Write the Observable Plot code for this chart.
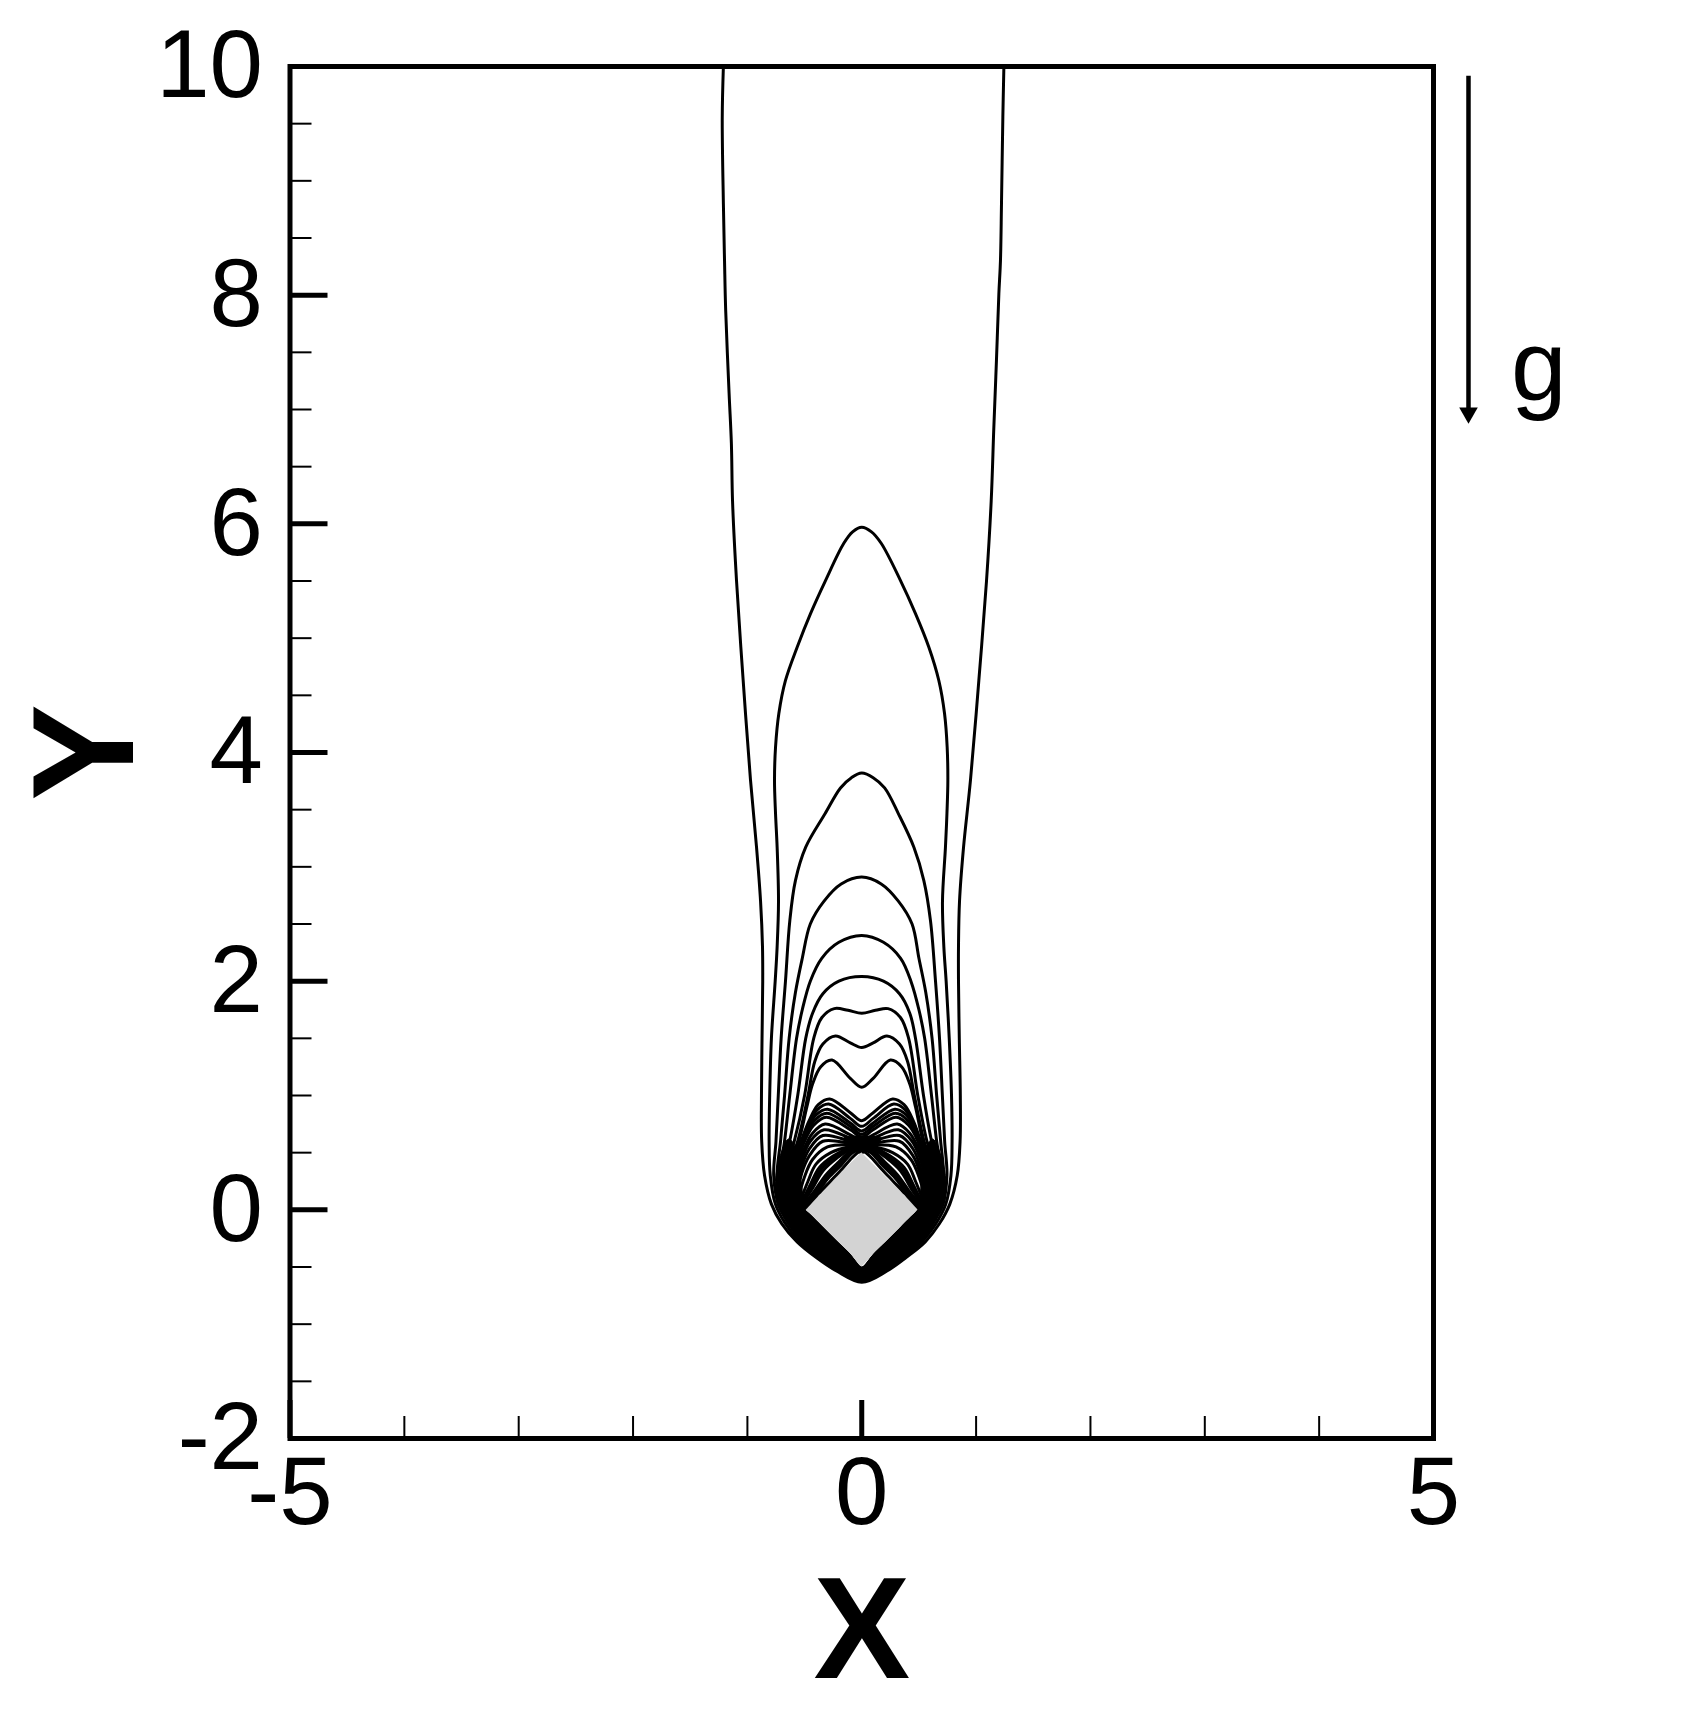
<!DOCTYPE html>
<html>
<head>
<meta charset="utf-8">
<script src="https://cdn.jsdelivr.net/npm/d3@7"></script>
<script src="https://cdn.jsdelivr.net/npm/@observablehq/plot@0.6"></script>
<style>
  html, body { margin: 0; padding: 0; background: #fff; overflow: hidden; }
</style>
</head>
<body>
<div id="chart"></div>
<script>
// ---- axis ticks ----
const xMajor = [-5, 0, 5];
const xMinor = [-4, -3, -2, -1, 1, 2, 3, 4];
const yMajor = [-2, 0, 2, 4, 6, 8, 10];
const yMinor = [-1.5, -1, -0.5, 0.5, 1, 1.5, 2.5, 3, 3.5, 4.5, 5, 5.5, 6.5, 7, 7.5, 8.5, 9, 9.5];

// ---- cylinder (diamond) ----
const cylX = [-0.5, 0, 0.5];
const cylLower = [0, -0.5, 0];
const cylUpper = [0, 0.5, 0];

// ---- regions where contour lines merge into solid black ----
const bundleLower = [[-0.64,0.62],[-0.72,0.45],[-0.755,0.25],[-0.74,0.05],[-0.655,-0.1],[-0.54,-0.26],[-0.385,-0.39],[-0.2,-0.51],[0,-0.612],[0.2,-0.51],[0.375,-0.39],[0.525,-0.26],[0.635,-0.1],[0.72,0.05],[0.735,0.25],[0.70,0.45],[0.62,0.62],[0.565,0.55],[0.53,0.35],[0.512,0.12],[0.5,0],[0,-0.5],[-0.5,0],[-0.515,0.12],[-0.545,0.35],[-0.58,0.55]];
const bundleTop = [[-0.16,0.625],[-0.06,0.645],[0.06,0.645],[0.17,0.625],[0.03,0.5],[-0.03,0.5]];

// ---- gravity annotation ----
const gravity = [{x: 5.306, top: 9.92, head: 6.97}];
const gLabel = [{x: 5.678, y: 7.08, label: "g"}];

// ---- contour lines (x, y) ----
const c1 = [[-1.21,10],[-1.22,9.55],[-1.21,8.8],[-1.2,8.3],[-1.19,7.87],[-1.16,7.14],[-1.14,6.7],[-1.13,6.2],[-1.095,5.5],[-1.037,4.63],[-0.973,3.76],[-0.92,3.17],[-0.885,2.7],[-0.868,2.3],[-0.866,2.0],[-0.872,1.5],[-0.877,1.0],[-0.875,0.6],[-0.85,0.3],[-0.79,0.05],[-0.70,-0.12],[-0.565,-0.28],[-0.4,-0.415],[-0.22,-0.535],[0,-0.633],[0.22,-0.535],[0.39,-0.415],[0.555,-0.28],[0.68,-0.12],[0.77,0.05],[0.835,0.3],[0.86,0.6],[0.862,1.0],[0.853,1.5],[0.846,2.0],[0.846,2.3],[0.855,2.7],[0.89,3.17],[0.951,3.76],[1.024,4.63],[1.091,5.5],[1.132,6.2],[1.155,6.84],[1.178,7.43],[1.199,8.01],[1.213,8.3],[1.222,8.8],[1.234,9.56],[1.243,10]];
const c2 = [[0,5.97],[-0.08,5.93],[-0.157,5.83],[-0.317,5.504],[-0.448,5.215],[-0.565,4.921],[-0.667,4.63],[-0.725,4.341],[-0.754,4.046],[-0.763,3.755],[-0.754,3.466],[-0.74,3.172],[-0.728,2.7],[-0.74,2.3],[-0.757,2.0],[-0.79,1.5],[-0.805,1.0],[-0.81,0.6],[-0.80,0.3],[-0.755,0.05],[-0.675,-0.11],[-0.55,-0.27],[-0.39,-0.40],[-0.21,-0.52],[0,-0.625],[0.21,-0.52],[0.38,-0.40],[0.535,-0.27],[0.655,-0.11],[0.735,0.05],[0.78,0.3],[0.79,0.6],[0.785,1.0],[0.765,1.5],[0.738,2.0],[0.718,2.3],[0.706,2.7],[0.732,3.172],[0.745,3.466],[0.753,3.755],[0.747,4.046],[0.724,4.341],[0.674,4.63],[0.587,4.921],[0.47,5.215],[0.339,5.504],[0.17,5.83],[0.085,5.93]];
const c3 = [[0,3.82],[-0.09,3.78],[-0.186,3.69],[-0.32,3.466],[-0.49,3.172],[-0.58,2.88],[-0.629,2.53],[-0.667,2.0],[-0.705,1.5],[-0.73,1.0],[-0.75,0.6],[-0.77,0.3],[-0.73,0.05],[-0.655,-0.1],[-0.535,-0.26],[-0.38,-0.39],[-0.2,-0.51],[0,-0.618],[0.2,-0.51],[0.37,-0.39],[0.52,-0.26],[0.635,-0.1],[0.71,0.05],[0.745,0.3],[0.725,0.6],[0.705,1.0],[0.68,1.5],[0.645,2.0],[0.601,2.53],[0.543,2.88],[0.456,3.172],[0.32,3.466],[0.2,3.69],[0.1,3.78]];
const c4 = [[0,2.91],[-0.18,2.85],[-0.33,2.70],[-0.45,2.50],[-0.52,2.2],[-0.58,1.9],[-0.635,1.5],[-0.675,1.0],[-0.71,0.6],[-0.74,0.3],[-0.70,0.05],[-0.63,-0.09],[-0.515,-0.25],[-0.37,-0.38],[-0.19,-0.50],[0,-0.612],[0.19,-0.50],[0.36,-0.38],[0.50,-0.25],[0.61,-0.09],[0.68,0.05],[0.715,0.3],[0.69,0.6],[0.655,1.0],[0.615,1.5],[0.56,1.9],[0.50,2.2],[0.44,2.50],[0.32,2.70],[0.17,2.85]];
const c5 = [[0,2.40],[-0.2,2.34],[-0.35,2.2],[-0.45,2.0],[-0.52,1.75],[-0.57,1.5],[-0.63,1.0],[-0.675,0.6],[-0.72,0.3],[-0.68,0.05],[-0.61,-0.085],[-0.50,-0.24],[-0.36,-0.37],[-0.18,-0.49],[0,-0.606],[0.18,-0.49],[0.35,-0.37],[0.485,-0.24],[0.59,-0.085],[0.66,0.05],[0.70,0.3],[0.655,0.6],[0.61,1.0],[0.55,1.5],[0.50,1.75],[0.43,2.0],[0.34,2.2],[0.19,2.34]];
const c6 = [[0,2.04],[-0.2,2.0],[-0.34,1.89],[-0.43,1.72],[-0.49,1.5],[-0.56,1.0],[-0.63,0.6],[-0.70,0.3],[-0.665,0.05],[-0.595,-0.08],[-0.49,-0.23],[-0.35,-0.36],[-0.17,-0.48],[0,-0.60],[0.17,-0.48],[0.34,-0.36],[0.475,-0.23],[0.575,-0.08],[0.645,0.05],[0.68,0.3],[0.61,0.6],[0.54,1.0],[0.47,1.5],[0.42,1.72],[0.33,1.89],[0.19,2.0]];
const c7 = [[0,1.72],[-0.12,1.745],[-0.24,1.76],[-0.35,1.68],[-0.42,1.5],[-0.50,1.0],[-0.59,0.6],[-0.68,0.3],[-0.65,0.05],[-0.58,-0.075],[-0.48,-0.22],[-0.34,-0.35],[-0.16,-0.47],[0,-0.594],[0.16,-0.47],[0.33,-0.35],[0.465,-0.22],[0.56,-0.075],[0.63,0.05],[0.66,0.3],[0.57,0.6],[0.49,1.0],[0.41,1.5],[0.34,1.68],[0.23,1.76],[0.12,1.745]];
const c8 = [[0,1.42],[-0.1,1.46],[-0.23,1.52],[-0.34,1.45],[-0.41,1.3],[-0.47,1.0],[-0.56,0.6],[-0.665,0.3],[-0.64,0.05],[-0.57,-0.07],[-0.47,-0.21],[-0.33,-0.345],[-0.155,-0.46],[0,-0.588],[0.155,-0.46],[0.32,-0.345],[0.455,-0.21],[0.55,-0.07],[0.62,0.05],[0.645,0.3],[0.545,0.6],[0.46,1.0],[0.40,1.3],[0.33,1.45],[0.22,1.52],[0.1,1.46]];
const c9 = [[0,1.072],[-0.1,1.15],[-0.26,1.31],[-0.36,1.25],[-0.43,1.1],[-0.48,0.9],[-0.55,0.6],[-0.65,0.3],[-0.63,0.05],[-0.56,-0.065],[-0.46,-0.2],[-0.32,-0.34],[-0.15,-0.455],[0,-0.582],[0.15,-0.455],[0.31,-0.34],[0.445,-0.2],[0.54,-0.065],[0.61,0.05],[0.63,0.3],[0.535,0.6],[0.47,0.9],[0.42,1.1],[0.35,1.25],[0.25,1.31],[0.1,1.15]];
const c10 = [[0,0.78],[-0.1,0.85],[-0.28,0.97],[-0.38,0.92],[-0.46,0.78],[-0.53,0.6],[-0.635,0.3],[-0.62,0.05],[-0.55,-0.06],[-0.45,-0.19],[-0.315,-0.33],[-0.145,-0.45],[0,-0.576],[0.145,-0.45],[0.305,-0.33],[0.435,-0.19],[0.53,-0.06],[0.60,0.05],[0.615,0.3],[0.515,0.6],[0.45,0.78],[0.37,0.92],[0.27,0.97],[0.1,0.85]];
const c10b = [[0,0.73],[-0.1,0.80],[-0.29,0.925],[-0.39,0.875],[-0.47,0.74],[-0.54,0.55],[-0.628,0.3],[-0.615,0.05],[-0.545,-0.058],[-0.445,-0.185],[-0.31,-0.325],[-0.142,-0.445],[0,-0.573],[0.142,-0.445],[0.30,-0.325],[0.43,-0.185],[0.525,-0.058],[0.595,0.05],[0.608,0.3],[0.525,0.55],[0.46,0.74],[0.38,0.875],[0.28,0.925],[0.1,0.80]];
const c11 = [[0,0.69],[-0.1,0.76],[-0.30,0.88],[-0.40,0.83],[-0.48,0.70],[-0.55,0.5],[-0.62,0.3],[-0.61,0.05],[-0.54,-0.055],[-0.44,-0.18],[-0.305,-0.32],[-0.14,-0.44],[0,-0.57],[0.14,-0.44],[0.295,-0.32],[0.425,-0.18],[0.52,-0.055],[0.59,0.05],[0.60,0.3],[0.535,0.5],[0.47,0.70],[0.39,0.83],[0.29,0.88],[0.1,0.76]];
const c11b = [[0,0.66],[-0.1,0.73],[-0.305,0.845],[-0.41,0.785],[-0.49,0.65],[-0.56,0.45],[-0.612,0.27],[-0.605,0.05],[-0.535,-0.052],[-0.435,-0.175],[-0.302,-0.315],[-0.137,-0.437],[0,-0.567],[0.137,-0.437],[0.292,-0.315],[0.42,-0.175],[0.515,-0.052],[0.585,0.05],[0.592,0.27],[0.54,0.45],[0.48,0.65],[0.40,0.785],[0.295,0.845],[0.1,0.73]];
const c12 = [[0,0.635],[-0.1,0.70],[-0.31,0.81],[-0.42,0.74],[-0.50,0.6],[-0.565,0.4],[-0.605,0.25],[-0.60,0.05],[-0.53,-0.05],[-0.43,-0.17],[-0.30,-0.31],[-0.135,-0.435],[0,-0.564],[0.135,-0.435],[0.29,-0.31],[0.415,-0.17],[0.51,-0.05],[0.58,0.05],[0.585,0.25],[0.545,0.4],[0.49,0.6],[0.41,0.74],[0.30,0.81],[0.1,0.70]];
const c13 = [[0,0.60],[-0.1,0.655],[-0.32,0.75],[-0.43,0.67],[-0.51,0.52],[-0.565,0.35],[-0.59,0.2],[-0.585,0.05],[-0.52,-0.045],[-0.42,-0.16],[-0.29,-0.30],[-0.13,-0.425],[0,-0.558],[0.13,-0.425],[0.285,-0.30],[0.405,-0.16],[0.50,-0.045],[0.565,0.05],[0.57,0.2],[0.545,0.35],[0.50,0.52],[0.42,0.67],[0.31,0.75],[0.1,0.655]];
const c14 = [[0,0.585],[-0.1,0.625],[-0.33,0.70],[-0.45,0.60],[-0.52,0.45],[-0.56,0.3],[-0.575,0.15],[-0.57,0.05],[-0.51,-0.04],[-0.41,-0.15],[-0.28,-0.29],[-0.125,-0.415],[0,-0.552],[0.125,-0.415],[0.275,-0.29],[0.395,-0.15],[0.49,-0.04],[0.55,0.05],[0.555,0.15],[0.545,0.3],[0.51,0.45],[0.44,0.60],[0.32,0.70],[0.1,0.625]];
const c15 = [[0,0.575],[-0.1,0.60],[-0.34,0.65],[-0.46,0.53],[-0.525,0.38],[-0.555,0.25],[-0.56,0.1],[-0.55,0.03],[-0.50,-0.035],[-0.40,-0.14],[-0.27,-0.28],[-0.12,-0.405],[0,-0.546],[0.12,-0.405],[0.265,-0.28],[0.385,-0.14],[0.48,-0.035],[0.53,0.03],[0.545,0.1],[0.54,0.25],[0.51,0.38],[0.45,0.53],[0.33,0.65],[0.1,0.60]];
const c16 = [[0,0.565],[-0.1,0.58],[-0.34,0.60],[-0.46,0.47],[-0.525,0.32],[-0.55,0.2],[-0.55,0.08],[-0.535,0.02],[-0.49,-0.03],[-0.39,-0.13],[-0.26,-0.27],[-0.115,-0.395],[0,-0.54],[0.115,-0.395],[0.255,-0.27],[0.375,-0.13],[0.475,-0.035],[0.515,0.02],[0.535,0.08],[0.535,0.2],[0.51,0.32],[0.45,0.47],[0.33,0.60],[0.1,0.58]];
const c16b = [[0,0.562],[-0.11,0.57],[-0.30,0.55],[-0.43,0.44],[-0.50,0.29],[-0.54,0.14],[-0.535,0.04],[-0.485,-0.035],[-0.38,-0.14],[-0.255,-0.27],[-0.117,-0.395],[0,-0.537],[0.117,-0.395],[0.255,-0.27],[0.38,-0.14],[0.485,-0.035],[0.535,0.04],[0.54,0.14],[0.50,0.29],[0.43,0.44],[0.30,0.55],[0.11,0.57]];
const c17 = [[0,0.56],[-0.12,0.55],[-0.27,0.50],[-0.40,0.40],[-0.47,0.25],[-0.525,0.1],[-0.53,0.03],[-0.48,-0.04],[-0.37,-0.15],[-0.25,-0.27],[-0.12,-0.395],[0,-0.535],[0.12,-0.395],[0.25,-0.27],[0.37,-0.15],[0.48,-0.04],[0.53,0.03],[0.525,0.1],[0.47,0.25],[0.40,0.40],[0.27,0.50],[0.12,0.55]];
const c18 = [[0,0.55],[-0.11,0.54],[-0.25,0.47],[-0.37,0.37],[-0.45,0.22],[-0.515,0.08],[-0.525,0.02],[-0.475,-0.04],[-0.365,-0.15],[-0.245,-0.27],[-0.115,-0.395],[0,-0.53],[0.115,-0.395],[0.245,-0.27],[0.365,-0.15],[0.475,-0.04],[0.525,0.02],[0.515,0.08],[0.45,0.22],[0.37,0.37],[0.25,0.47],[0.11,0.54]];
const c18b = [[0,0.547],[-0.105,0.535],[-0.235,0.46],[-0.355,0.355],[-0.44,0.205],[-0.512,0.07],[-0.522,0.015],[-0.472,-0.04],[-0.362,-0.15],[-0.242,-0.27],[-0.112,-0.395],[0,-0.527],[0.112,-0.395],[0.242,-0.27],[0.362,-0.15],[0.472,-0.04],[0.522,0.015],[0.512,0.07],[0.44,0.205],[0.355,0.355],[0.235,0.46],[0.105,0.535]];
const c19 = [[0,0.545],[-0.1,0.53],[-0.22,0.45],[-0.34,0.34],[-0.43,0.19],[-0.51,0.06],[-0.52,0.01],[-0.47,-0.04],[-0.36,-0.15],[-0.24,-0.27],[-0.11,-0.395],[0,-0.525],[0.11,-0.395],[0.24,-0.27],[0.36,-0.15],[0.47,-0.04],[0.52,0.01],[0.51,0.06],[0.43,0.19],[0.34,0.34],[0.22,0.45],[0.1,0.53]];
const c20 = [[0,0.54],[-0.09,0.52],[-0.2,0.42],[-0.31,0.31],[-0.41,0.17],[-0.5,0.05],[-0.515,0.0],[-0.465,-0.045],[-0.355,-0.155],[-0.235,-0.275],[-0.105,-0.405],[0,-0.52],[0.105,-0.405],[0.235,-0.275],[0.355,-0.155],[0.465,-0.045],[0.515,0.0],[0.5,0.05],[0.41,0.17],[0.31,0.31],[0.2,0.42],[0.09,0.52]];
const c20b = [[0,0.535],[-0.085,0.51],[-0.19,0.405],[-0.30,0.295],[-0.40,0.16],[-0.495,0.042],[-0.512,-0.002],[-0.462,-0.048],[-0.352,-0.158],[-0.232,-0.278],[-0.102,-0.408],[0,-0.517],[0.102,-0.408],[0.232,-0.278],[0.352,-0.158],[0.462,-0.048],[0.512,-0.002],[0.495,0.042],[0.40,0.16],[0.30,0.295],[0.19,0.405],[0.085,0.51]];
const c21 = [[0,0.53],[-0.08,0.5],[-0.18,0.39],[-0.29,0.28],[-0.39,0.15],[-0.49,0.035],[-0.51,-0.005],[-0.46,-0.05],[-0.35,-0.16],[-0.23,-0.28],[-0.1,-0.41],[0,-0.515],[0.1,-0.41],[0.23,-0.28],[0.35,-0.16],[0.46,-0.05],[0.51,-0.005],[0.49,0.035],[0.39,0.15],[0.29,0.28],[0.18,0.39],[0.08,0.5]];
const c22 = [[0,0.52],[-0.07,0.47],[-0.17,0.36],[-0.27,0.255],[-0.38,0.14],[-0.48,0.03],[-0.505,-0.005],[-0.455,-0.055],[-0.345,-0.165],[-0.225,-0.285],[-0.095,-0.415],[0,-0.51],[0.095,-0.415],[0.225,-0.285],[0.345,-0.165],[0.455,-0.055],[0.505,-0.005],[0.48,0.03],[0.38,0.14],[0.27,0.255],[0.17,0.36],[0.07,0.47]];

const openContours = [c1];
const closedContours = [c2,c3,c4,c5,c6,c7,c8,c9,c10,c10b,c11,c11b,c12,c13,c14,c15,c16,c16b,c17,c18,c18b,c19,c20,c20b,c21,c22];

const toRows = (list) => list.flatMap((pts, i) => pts.map(p => ({id: i, x: p[0], y: p[1]})));
const openRows = toRows(openContours);
const closedRows = toRows(closedContours);
const bundleRows = toRows([bundleLower, bundleTop]);
const cylRows = cylX.map((x, i) => ({x, lo: cylLower[i], hi: cylUpper[i]}));

const lineW = 3;

const chart = Plot.plot({
  width: 1690,
  height: 1710,
  marginLeft: 289.5,
  marginRight: 257,
  marginTop: 66,
  marginBottom: 272,
  x: {domain: [-5, 5]},
  y: {domain: [-2, 10]},
  style: {fontFamily: "'Liberation Sans', Arial, Helvetica, sans-serif", color: "black", background: "white"},
  marks: [
    Plot.line(bundleRows, {x: "x", y: "y", z: "id", curve: "catmull-rom-closed", fill: "black", stroke: "black", strokeWidth: 1}),
    Plot.areaY(cylRows, {x: "x", y1: "lo", y2: "hi", fill: "#d3d3d3"}),
    Plot.line(openRows, {x: "x", y: "y", z: "id", curve: "catmull-rom", stroke: "black", strokeWidth: lineW, clip: true}),
    Plot.line(closedRows, {x: "x", y: "y", z: "id", curve: "catmull-rom-closed", stroke: "black", strokeWidth: lineW, clip: true}),
    Plot.frame({stroke: "black", strokeWidth: 5}),
    // inward ticks
    Plot.axisY({ticks: yMajor, tickSize: -38, strokeWidth: 5, tickFormat: () => "", label: null}),
    Plot.axisY({ticks: yMinor, tickSize: -22, strokeWidth: 2, tickFormat: () => "", label: null}),
    Plot.axisX({ticks: xMajor, tickSize: -38, strokeWidth: 5, tickFormat: () => "", label: null}),
    Plot.axisX({ticks: xMinor, tickSize: -22, strokeWidth: 2, tickFormat: () => "", label: null}),
    // tick labels
    Plot.axisY({ticks: yMajor, tickSize: 0, tickPadding: 27, fontSize: 96, tickFormat: d => String(d), label: null}),
    Plot.axisX({ticks: xMajor, tickSize: 0, tickPadding: 17, fontSize: 96, tickFormat: d => String(d), label: null}),
    // axis titles
    Plot.text(["X"], {text: d => d, frameAnchor: "bottom", dy: 239, lineAnchor: "bottom", fontSize: 145, fontWeight: "bold", fill: "black"}),
    Plot.text(["Y"], {text: d => d, frameAnchor: "left", dx: -203, rotate: -90, lineAnchor: "middle", textAnchor: "middle", fontSize: 145, fontWeight: "bold", fill: "black"}),
    // gravity arrow
    Plot.link(gravity, {x1: "x", x2: "x", y1: "top", y2: "head", stroke: "black", strokeWidth: 4.5}),
    Plot.dot(gravity, {x: "x", y: "head", symbol: "triangle", r: 6.9, rotate: 180, fill: "black", stroke: "none"}),
    Plot.text(gLabel, {x: "x", y: "y", text: "label", textAnchor: "start", lineAnchor: "bottom", fontSize: 100, fill: "black"})
  ]
});

document.getElementById("chart").appendChild(chart);
</script>
</body>
</html>
